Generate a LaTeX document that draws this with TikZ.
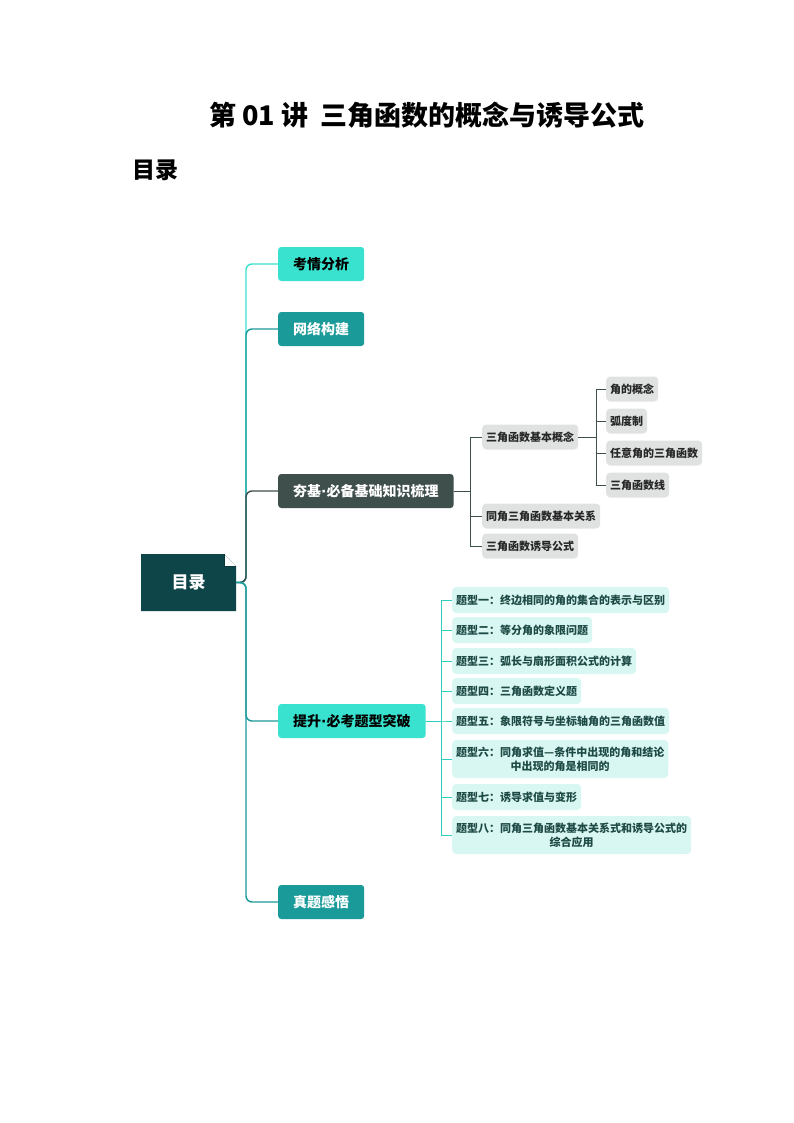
\documentclass[tikz,border=0pt]{standalone}
\usepackage{fontspec}
\setmainfont{Noto Sans CJK SC}
\newfontfamily\dotfont{DejaVu Sans}
\usetikzlibrary{positioning}
\definecolor{rootc}{HTML}{0E4548}
\definecolor{aqua}{HTML}{38E2CE}
\definecolor{tealc}{HTML}{1B9A9A}
\definecolor{slate}{HTML}{3E4F4C}
\definecolor{grayc}{HTML}{E0E2E2}
\definecolor{mint}{HTML}{D9F7F2}
\definecolor{inkc}{HTML}{1E4A46}
\newcommand{\mdot}{{\dotfont\bfseries·}}
\begin{document}
\begin{tikzpicture}[x=1pt,y=1pt]
	\tikzset{branch/.style = {rounded corners=3pt, font=\fontsize{14}{16}\selectfont\bfseries, inner xsep=15pt, minimum height=34pt, anchor=west}}
	\tikzset{leaf/.style = {rounded corners=4pt, fill=grayc, text=black!85, font=\fontsize{11}{12}\selectfont\bfseries, inner xsep=4pt, minimum height=25pt, anchor=west}}
	\tikzset{task/.style = {rounded corners=4pt, fill=mint, text=inkc, font=\fontsize{11}{14}\selectfont\bfseries, inner xsep=4pt, minimum height=26pt, anchor=west, align=center}}
	\tikzset{edge/.style = {line width=1.4pt, rounded corners=6pt}}
	\tikzset{twig/.style = {line width=1pt}}
	
	\useasboundingbox (0,0) rectangle (794,-1123);
	
	\node (title) at (427,-115) {\fontsize{27}{30}\selectfont\bfseries 第 01 讲\ \ 三角函数的概念与诱导公式};
	\node (toc) at (155,-170) {\fontsize{23}{26}\selectfont\bfseries 目录};
	
	% root with folded corner
	\fill[rootc] (141,-554) -- (224,-554) -- (236,-566) -- (236,-611) -- (141,-611) -- cycle;
	\fill[white] (224,-554) -- (236,-566) -- (224,-566) -- cycle;
	\draw[rootc!80!black] (224,-554) -- (224,-566) -- (236,-566);
	\node[text=white, font=\fontsize{17}{20}\selectfont\bfseries] (root) at (188.5,-582.5) {目录};
	\coordinate (rootE) at (236,-582.5);
	
	\node[branch, fill=aqua, text=black] (b1) at (278,-264) {考情分析};
	\node[branch, fill=tealc, text=white] (b2) at (278,-329) {网络构建};
	\node[branch, fill=slate, text=white] (b3) at (278,-491) {夯基\mdot 必备基础知识梳理};
	\node[branch, fill=aqua, text=black] (b4) at (278,-721) {提升\mdot 必考题型突破};
	\node[branch, fill=tealc, text=white] (b5) at (278,-902) {真题感悟};
	
	\draw[edge, aqua] (rootE) -- (246,-582.5) |- (b1.west);
	\draw[edge, tealc] (rootE) -- (246,-582.5) |- (b2.west);
	\draw[edge, slate] (rootE) -- (246,-582.5) |- (b3.west);
	\draw[edge, tealc] (rootE) -- (246,-582.5) |- (b4.west);
	\draw[edge, tealc] (rootE) -- (246,-582.5) |- (b5.west);
	
	\node[leaf] (c1) at (482,-437) {三角函数基本概念};
	\node[leaf] (c2) at (482,-516) {同角三角函数基本关系};
	\node[leaf] (c3) at (482,-546) {三角函数诱导公式};
	
	\node[leaf] (d1) at (606,-389) {角的概念};
	\node[leaf] (d2) at (606,-421) {弧度制};
	\node[leaf] (d3) at (606,-453) {任意角的三角函数};
	\node[leaf] (d4) at (606,-485) {三角函数线};
	
	\foreach \c in {c1,c2,c3}
		\draw[twig, slate] (b3.east) -- (470,-491) |- (\c.west);
	\foreach \d in {d1,d2,d3,d4}
		\draw[twig, slate] (c1.east) -- (596,-437) |- (\d.west);
	
	\node[task] (t1) at (452,-600) {题型一：终边相同的角的集合的表示与区别};
	\node[task] (t2) at (452,-630) {题型二：等分角的象限问题};
	\node[task] (t3) at (452,-661) {题型三：弧长与扇形面积公式的计算};
	\node[task] (t4) at (452,-691) {题型四：三角函数定义题};
	\node[task] (t5) at (452,-721) {题型五：象限符号与坐标轴角的三角函数值};
	\node[task, minimum height=38pt] (t6) at (452,-759) {题型六：同角求值—条件中出现的角和结论\\中出现的角是相同的};
	\node[task] (t7) at (452,-797) {题型七：诱导求值与变形};
	\node[task, minimum height=38pt] (t8) at (452,-835) {题型八：同角三角函数基本关系式和诱导公式的\\综合应用};
	
	\foreach \t in {t1,t2,t3,t4,t5,t6,t7,t8}
		\draw[twig, aqua!80!teal] (b4.east) -- (441,-721) |- (\t.west);
\end{tikzpicture}
\end{document}
